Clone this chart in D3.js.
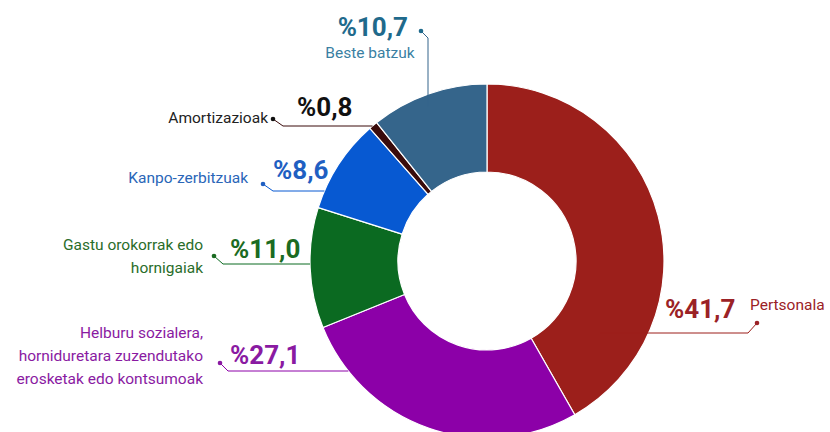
<!DOCTYPE html>
<html>
<head>
<meta charset="utf-8">
<script src="https://cdn.jsdelivr.net/npm/d3@7"></script>
<style>
  body { margin: 0; background: #fff; }
  svg { display: block; font-family: Roboto, "Open Sans", sans-serif; }
</style>
</head>
<body>
<div id="chart"></div>
<script>
// data
var categories = ["Pertsonala", "Helburu sozialera, horniduretara zuzendutako erosketak edo kontsumoak",
  "Gastu orokorrak edo hornigaiak", "Kanpo-zerbitzuak", "Amortizazioak", "Beste batzuk"];
var values = [41.7, 27.1, 11.0, 8.6, 0.8, 10.7];
var valueLabels = ["%41,7", "%27,1", "%11,0", "%8,6", "%0,8", "%10,7"];
var nameLines = [
  ["Pertsonala"],
  ["Helburu sozialera,", "horniduretara zuzendutako", "erosketak edo kontsumoak"],
  ["Gastu orokorrak edo", "hornigaiak"],
  ["Kanpo-zerbitzuak"],
  ["Amortizazioak"],
  ["Beste batzuk"]
];

// styles
var sliceColors = ["#9c1f1b", "#8c00a8", "#0b6a21", "#0759d2", "#3a0b0b", "#35658b"];
var textColors  = ["#9b2226", "#8a1aa2", "#1b6b22", "#1f5fc2", "#111111", "#1f6a8c"];
var nameColors  = ["#9b2226", "#8a1aa2", "#2a6d2a", "#2a66b8", "#222222", "#3a7fa2"];

// label layout (manual annotation placement)
var w = 830, h = 432;
var cx = 487, cy = 261, R = 177, r0 = 89;
var layout = [
  {pct: [665, 318, "start"], name: [750, 310, "start"], dot: [757, 323], elbow: [748, 333], dir: "h", side: 1, reach: 134},
  {pct: [230, 364, "start"], name: [203, 338, "end"], dot: [220, 363], elbow: [228, 371], dir: "h", side: -1, reach: 177},
  {pct: [230, 258, "start"], name: [203, 250, "end"], dot: [214, 256], elbow: [223, 264], dir: "h", side: -1, reach: 177},
  {pct: [273, 179, "start"], name: [248, 183, "end"], dot: [263, 184], elbow: [273, 191], dir: "h", side: -1, reach: 177},
  {pct: [297, 116, "start"], name: [268, 123, "end"], dot: [273, 119], elbow: [283, 126], dir: "h", side: -1, reach: 177},
  {pct: [408, 36, "end"], name: [370, 58, "middle"], dot: [421, 31], elbow: [428, 38], dir: "v", side: -1, reach: 165}
];

var svg = d3.select("#chart").append("svg")
  .attr("width", w)
  .attr("height", h);

var pie = d3.pie().sort(null).value(function(d) { return d; });
var arc = d3.arc().innerRadius(r0).outerRadius(R);
var arcs = pie(values);

var g = svg.append("g").attr("transform", "translate(" + cx + "," + cy + ")");

g.selectAll("path")
  .data(arcs)
  .enter()
  .append("path")
  .attr("d", arc)
  .attr("fill", function(d, i) { return sliceColors[i]; })
  .attr("stroke", "#fff")
  .attr("stroke-width", 1.2);

// leader lines end where they meet the ring (or reach radius)
function lineEnd(L) {
  if (L.dir === "h") {
    var dy = L.elbow[1] - cy;
    return [cx + L.side * Math.sqrt(L.reach * L.reach - dy * dy), L.elbow[1]];
  }
  var dx = L.elbow[0] - cx;
  return [L.elbow[0], cy + L.side * Math.sqrt(L.reach * L.reach - dx * dx)];
}

var labels = svg.selectAll("g.label")
  .data(categories)
  .enter()
  .append("g")
  .attr("class", "label");

labels.append("path")
  .attr("d", function(d, i) {
    var L = layout[i];
    return d3.line()([L.dot, L.elbow, lineEnd(L)]);
  })
  .attr("fill", "none")
  .attr("stroke", function(d, i) { return sliceColors[i]; })
  .attr("stroke-width", 1);

labels.append("circle")
  .attr("cx", function(d, i) { return layout[i].dot[0]; })
  .attr("cy", function(d, i) { return layout[i].dot[1]; })
  .attr("r", 2.3)
  .attr("fill", function(d, i) { return textColors[i]; });

labels.append("text")
  .text(function(d, i) { return valueLabels[i]; })
  .attr("x", function(d, i) { return layout[i].pct[0]; })
  .attr("y", function(d, i) { return layout[i].pct[1]; })
  .attr("text-anchor", function(d, i) { return layout[i].pct[2]; })
  .attr("font-size", 26)
  .attr("font-weight", 700)
  .attr("fill", function(d, i) { return textColors[i]; });

labels.append("text")
  .attr("x", function(d, i) { return layout[i].name[0]; })
  .attr("y", function(d, i) { return layout[i].name[1]; })
  .attr("text-anchor", function(d, i) { return layout[i].name[2]; })
  .attr("font-size", 15.5)
  .attr("fill", function(d, i) { return nameColors[i]; })
  .each(function(d, i) {
    var t = d3.select(this);
    nameLines[i].forEach(function(line, j) {
      t.append("tspan")
        .attr("x", layout[i].name[0])
        .attr("dy", j === 0 ? 0 : 23)
        .text(line);
    });
  });
</script>
</body>
</html>
